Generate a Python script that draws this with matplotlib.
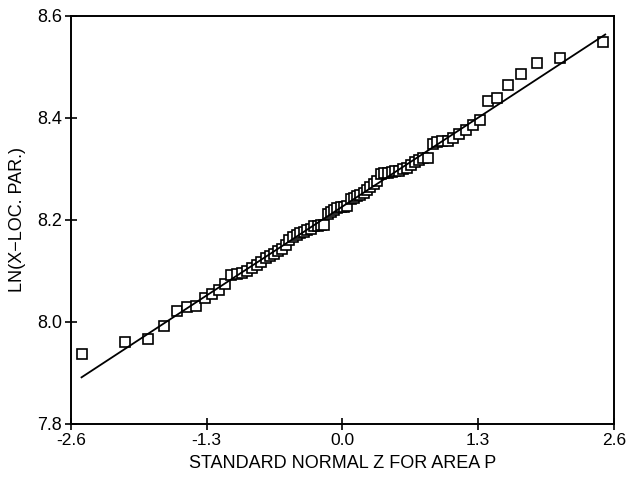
import numpy as np
import matplotlib.pyplot as plt
from statistics import NormalDist

# Valores ordenados de ln(x - loc) (n = 80)
ln_vals = [7.937, 7.960, 7.967, 7.991, 8.021, 8.030, 8.032, 8.046, 8.055, 8.062,
           8.075, 8.092, 8.094, 8.096, 8.099, 8.105, 8.111, 8.117, 8.125, 8.129,
           8.134, 8.139, 8.143, 8.150, 8.160, 8.166, 8.170, 8.175, 8.176, 8.180,
           8.183, 8.187, 8.188, 8.190, 8.190, 8.211, 8.215, 8.219, 8.224, 8.226,
           8.226, 8.227, 8.241, 8.243, 8.246, 8.249, 8.253, 8.258, 8.264, 8.270,
           8.276, 8.290, 8.291, 8.292, 8.293, 8.295, 8.296, 8.299, 8.302, 8.307,
           8.313, 8.318, 8.321, 8.322, 8.349, 8.352, 8.354, 8.355, 8.361, 8.368,
           8.376, 8.386, 8.396, 8.433, 8.439, 8.464, 8.485, 8.507, 8.518, 8.548]

# Recta ajustada
fit_intercept = 8.226
fit_slope = 0.134

xticks = [-2.6, -1.3, 0.0, 1.3, 2.6]
yticks = [7.8, 8.0, 8.2, 8.4, 8.6]

# Posiciones de graficado z = Phi^-1((i - 0.5) / n)
n = len(ln_vals)
z = np.array([NormalDist().inv_cdf((i - 0.5) / n) for i in range(1, n + 1)])

plt.rcParams['font.family'] = ['Liberation Sans', 'DejaVu Sans']

fig = plt.figure(figsize=(6.27, 4.79), dpi=100)
ax = fig.add_axes([0.113, 0.115, 0.866, 0.852])

ax.plot(z, ln_vals, linestyle='none', marker='s', markersize=6.5,
        markerfacecolor='white', markeredgecolor='black', markeredgewidth=1.2)

zl = np.array([z.min(), z.max() + 0.02])
ax.plot(zl, fit_intercept + fit_slope * zl, color='black', linewidth=1.3)

ax.set_xlim(-2.6, 2.6)
ax.set_ylim(7.8, 8.6)
ax.set_xticks(xticks)
ax.set_yticks(yticks)
ax.set_xticklabels(['%.1f' % t for t in xticks], fontsize=12.5)
ax.set_yticklabels(['%.1f' % t for t in yticks], fontsize=13)
ax.tick_params(direction='inout', length=9, width=1.2, top=False, right=False, pad=2)
for s in ax.spines.values():
    s.set_linewidth(1.4)

ax.set_xlabel('STANDARD NORMAL Z FOR AREA P', fontsize=13, labelpad=5)
ax.set_ylabel('LN(X\u2212LOC. PAR.)', fontsize=13, labelpad=8)

plt.savefig('out.png', dpi=100)
